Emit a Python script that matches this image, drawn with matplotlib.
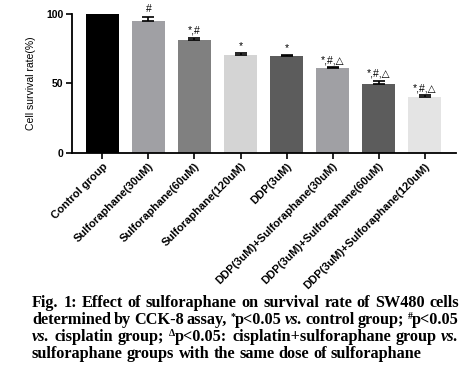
import re
import numpy as np
import matplotlib
matplotlib.use('Agg')
import matplotlib.pyplot as plt

# data
groups = ['Control group', 'Sulforaphane(30uM)', 'Sulforaphane(60uM)',
          'Sulforaphane(120uM)', 'DDP(3uM)', 'DDP(3uM)+Sulforaphane(30uM)',
          'DDP(3uM)+Sulforaphane(60uM)', 'DDP(3uM)+Sulforaphane(120uM)']
survival = [100.0, 95.2, 81.2, 70.4, 69.6, 61.0, 49.9, 40.0]
sem = [0.0, 3.2, 1.7, 1.4, 1.1, 0.7, 1.9, 1.4]
marks = ['', '#', '*,#', '*', '*', '*,#,△', '*,#,△', '*,#,△']
colors = ['#000000', '#a0a0a4', '#808080', '#d4d4d4',
          '#5c5c5c', '#a0a0a4', '#5c5c5c', '#e4e4e4']

caption = [
    'Fig. 1: Effect of sulforaphane on survival rate of SW480 cells',
    'determined by CCK-8 assay, {*}p<0.05 |vs.| control group; {#}p<0.05',
    '|vs.| cisplatin group; {Δ}p<0.05: cisplatin+sulforaphane group |vs.|',
    'sulforaphane groups with the same dose of sulforaphane',
]

W, H = 471, 374
fig = plt.figure(figsize=(W / 100, H / 100), dpi=100)
ax = fig.add_axes([72 / W, 1 - 152.7 / H, 384 / W, 138.4 / H])

x = np.arange(len(groups))
ax.bar(x, survival, width=0.72, color=colors)
ax.errorbar(x[1:], survival[1:], yerr=[np.zeros(len(x) - 1), sem[1:]],
            fmt='none', ecolor='black', elinewidth=1.2, capsize=4.5,
            capthick=1.2, clip_on=False)
for xi, v, e, m in zip(x, survival, sem, marks):
    if m:
        ax.text(xi, v + e + 1.5, m, ha='center', va='bottom', fontsize=7.5,
                family=['Liberation Sans', 'DejaVu Sans'], clip_on=False)

ax.set_xlim(-0.66, 7.68)
ax.set_ylim(0, 100)
ax.set_yticks([0, 50, 100])
ax.set_xticks(x)
ax.set_xticklabels(groups, rotation=45, ha='right', rotation_mode='anchor',
                   fontsize=8, fontweight='bold', family='Liberation Sans')
for lab in ax.get_yticklabels():
    lab.set_fontsize(7.5)
    lab.set_fontweight('bold')
    lab.set_family('Liberation Sans')
ax.set_ylabel('Cell survival rate(%)', fontsize=7.5, family='Liberation Sans')
ax.yaxis.set_label_coords(-36 / 384, 0.5)
for s in ['top', 'right']:
    ax.spines[s].set_visible(False)
for s in ['left', 'bottom']:
    ax.spines[s].set_linewidth(1.3)
ax.tick_params(length=4, width=1.2, pad=2)

# justified caption, measured word by word
r = fig.canvas.get_renderer()
left, right = 32, 459
baselines = [306.7, 324, 341, 358]
fs = 11.7


def pieces(word):
    out = []
    for part in re.split(r'(\{[^}]*\}|\|[^|]*\|)', word):
        if not part:
            continue
        if part.startswith('{'):
            out.append((part[1:-1], 'sup'))
        elif part.startswith('|'):
            out.append((part[1:-1], 'it'))
        else:
            out.append((part, 'b'))
    return out


def make(s, kind, px, py):
    kw = dict(family=['Liberation Serif', 'DejaVu Serif'], fontweight='bold',
              transform=None, va='baseline', ha='left')
    size = fs
    if kind == 'sup':
        size = fs * 0.6
        py = py + fs * 0.45
    if kind == 'it':
        kw['style'] = 'italic'
    return fig.text(px, py, s, fontsize=size, **kw)


def width_of(word):
    tot = 0
    for s, k in pieces(word):
        t = make(s, k, 0, 0)
        tot += t.get_window_extent(r).width
        t.remove()
    return tot


space = width_of('a b') - width_of('ab')
for i, (line, by) in enumerate(zip(caption, baselines)):
    words = line.split(' ')
    widths = [width_of(w) for w in words]
    if i < len(caption) - 1:
        gap = (right - left - sum(widths)) / (len(words) - 1)
    else:
        gap = space
    px = left
    py = H - by
    for w, wd in zip(words, widths):
        cx = px
        for s, k in pieces(w):
            t = make(s, k, cx, py)
            cx += t.get_window_extent(r).width
        px += wd + gap

fig.savefig('out.png', dpi=100)
